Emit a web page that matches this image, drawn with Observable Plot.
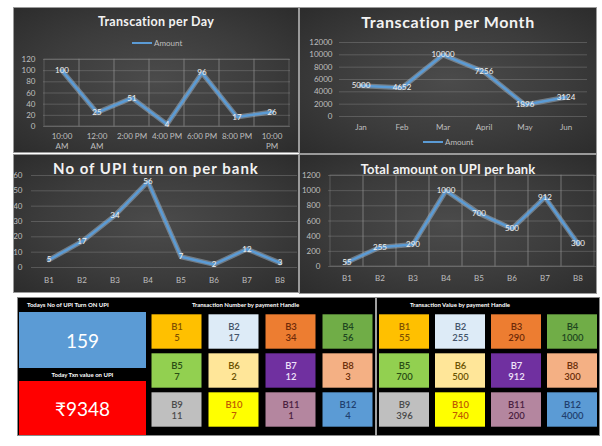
<!DOCTYPE html>
<html><head><meta charset="utf-8">
<script src="https://cdn.jsdelivr.net/npm/d3@7"></script>
<script src="https://cdn.jsdelivr.net/npm/@observablehq/plot@0.6"></script>
<style>
body{margin:0;background:#fff;font-family:Lato,"Noto Sans",sans-serif;}
#root{position:relative;width:602px;height:446px;overflow:hidden;background:#fff;}
.panel{position:absolute;background:radial-gradient(ellipse at 50% 50%,#4b4b4b 0%,#3c3c3c 55%,#2c2c2c 100%);overflow:hidden;box-shadow:0 0 0 1px #9a9a9a;}
.panel svg{position:absolute;left:0;top:0;}
.title{position:absolute;left:0;right:0;text-align:center;color:#f2f2f2;font-weight:700;white-space:nowrap;line-height:1;}
.legend{position:absolute;color:#bfbfbf;font-size:8px;line-height:8px;white-space:nowrap;}
.legend i{display:inline-block;width:20px;height:2px;background:#5b9bd5;vertical-align:middle;margin-right:2px;position:relative;top:-1px;}
#board{position:absolute;left:17px;top:297px;width:583px;height:139px;background:#000;box-sizing:border-box;border:1px solid #8a8a8a;}
.hdr{position:absolute;color:#fff;font-size:6px;font-weight:700;white-space:nowrap;line-height:6px;}
.kpi{position:absolute;color:#fff;display:flex;align-items:center;justify-content:center;font-size:19px;}
.sep{position:absolute;background:#a0a0a0;}
.tiles{position:absolute;}
</style></head>
<body><div id="root"></div>
<script>
// ---- data ----
const hours = ["10:00 AM","12:00 AM","2:00 PM","4:00 PM","6:00 PM","8:00 PM","10:00 PM"];
const dayAmount = [100,25,51,4,96,17,26];
const months = ["Jan","Feb","Mar","April","May","Jun"];
const monthAmount = [5000,4652,10000,7256,1896,3124];
const banks = ["B1","B2","B3","B4","B5","B6","B7","B8","B9","B10","B11","B12"];
const txnCount = [5,17,34,56,7,2,12,3,11,7,1,4];
const txnValue = [55,255,290,1000,700,500,912,300,396,740,200,4000];

// ---- styles ----
const tileFill = ["#ffc000","#ddebf7","#ed7d31","#70ad47","#92d050","#ffe699","#7030a0","#f4b084","#bfbfbf","#ffff00","#b4869f","#5b9bd5"];
const tileInk  = ["#7f5000","#44546a","#6e2a08","#1e4620","#2a4d14","#6b5200","#efe3fa","#6b2e0a","#4a4a4a","#c05a00","#4a2040","#1f3f6f"];

const root = document.getElementById("root");
function el(tag, cls, css, html){const e=document.createElement(tag); if(cls) e.className=cls; if(css) e.style.cssText=css; if(html!=null) e.innerHTML=html; return e;}

function lineChart({cats, vals, width, height, ml, mr, mt, mb, yMax, yStep, vgrid, xPad, yPad, fmtX}) {
  const data = cats.map((c,i)=>({c, v: vals[i]}));
  const ticks = d3.range(0, yMax + 1, yStep);
  return Plot.plot({
    width, height, marginLeft: ml, marginRight: mr, marginTop: mt, marginBottom: mb,
    style: {background:"transparent", color:"#bfbfbf", fontFamily:"Lato, sans-serif", fontSize:"8px", overflow:"visible"},
    x: {type:"band", domain: cats, padding: 0, label: null, axis: null},
    y: {domain:[0, yMax], label: null, axis: null},
    marks: [
      Plot.gridY(ticks, {stroke:"#9a9a9a", strokeOpacity:0.35}),
      vgrid ? Plot.cell(data, {x:"c", fill:"none", stroke:"#9a9a9a", strokeOpacity:0.35}) : null,
      Plot.axisY(ticks, {tickSize:0, tickPadding:yPad, tickFormat:"d", fill:"#bfbfbf", fontSize:8}),
      Plot.axisX({tickSize:0, tickPadding:xPad, tickFormat: fmtX || (d=>d), fill:"#bfbfbf", fontSize:8, lineHeight:1.25}),
      Plot.line(data, {x:"c", y:"v", stroke:"#bdd7ee", strokeWidth:5, strokeOpacity:0.4}),
      Plot.line(data, {x:"c", y:"v", stroke:"#5b9bd5", strokeWidth:2.5}),
      Plot.text(data, {x:"c", y:"v", text: d=>String(d.v), fill:"#f2f2f2", fontSize:8})
    ]
  });
}

function panel(left, top, w, h, chart, title, tTop, tSize, tSpace, legend){
  const p = el("div","panel",`left:${left}px;top:${top}px;width:${w}px;height:${h}px;`);
  p.appendChild(chart);
  p.appendChild(el("div","title",`top:${tTop}px;font-size:${tSize}px;letter-spacing:${tSpace}px;`, title));
  if (legend) p.appendChild(el("div","legend",`left:${legend[0]}px;top:${legend[1]}px;`, "<i></i>Amount"));
  root.appendChild(p);
}

panel(14, 8, 284, 144, lineChart({cats:hours, vals:dayAmount, width:284, height:144, ml:29, mr:8, mt:51, mb:26, yMax:120, yStep:20, vgrid:true, xPad:5, yPad:8,
  fmtX: d => d.length > 7 ? d.replace(" ", "\n") : d}), "Transcation per Day", 8, 12.5, 0.3, [118, 31]);

panel(300, 8, 296, 145, lineChart({cats:months, vals:monthAmount, width:296, height:145, ml:39, mr:9, mt:34, mb:37, yMax:12000, yStep:2000, vgrid:false, xPad:6, yPad:7}),
  "Transcation per Month", 6, 16, 0.6, [123, 130]);

panel(14, 155, 284, 137, lineChart({cats:banks.slice(0,8), vals:txnCount.slice(0,8), width:284, height:137, ml:17, mr:1, mt:20, mb:25, yMax:60, yStep:10, vgrid:false, xPad:8, yPad:9}),
  "No of UPI turn on per bank", 6, 15, 1, null);

panel(300, 155, 296, 138, lineChart({cats:banks.slice(0,8), vals:txnValue.slice(0,8), width:296, height:138, ml:28, mr:0, mt:20, mb:27, yMax:1200, yStep:200, vgrid:true, xPad:7, yPad:8}),
  "Total amount on UPI per bank", 8, 13, 0.1, null);

// ---- bottom board ----
const board = el("div", null, "", null); board.id = "board"; root.appendChild(board);
function abs(cls, css, html){ const e = el("div", cls, "position:absolute;" + css, html); root.appendChild(e); return e; }
abs("hdr", "left:27px;top:302px;", "Todays No of UPI Turn ON UPI");
abs("kpi", "left:19px;top:312px;width:127px;height:56px;background:#5b9bd5;", String(d3.sum(txnCount)));
abs("hdr", "left:19px;top:372px;width:127px;text-align:center;", "Today Txn value on UPI");
abs("kpi", "left:19px;top:381px;width:127px;height:54px;background:#ff0000;", "₹" + d3.sum(txnValue));
abs("hdr", "left:192px;top:302px;", "Transaction Number by payment Handle");
abs("hdr", "left:410px;top:302px;", "Transaction Value by payment Handle");
abs("sep", "left:375px;top:298px;width:2px;height:138px;");

function tilePlot(vals, width, inset){
  const tiles = banks.map((b,i)=>({bank:b, v:vals[i], i, col:i%4, row:Math.floor(i/4)}));
  return Plot.plot({
    width, height:119, margin:0,
    style:{background:"transparent", fontFamily:"Lato, sans-serif", overflow:"visible"},
    x:{type:"band", domain:[0,1,2,3], padding:0, axis:null},
    y:{type:"band", domain:[0,1,2], padding:0, axis:null},
    color:{type:"identity"},
    marks:[
      Plot.cell(tiles, {x:"col", y:"row", fill:d=>tileFill[d.i], insetLeft:inset, insetRight:inset, insetTop:2.3, insetBottom:2.3}),
      Plot.text(tiles, {x:"col", y:"row", text:d=>`${d.bank}\n${d.v}`, fill:d=>tileInk[d.i], fontSize:9.5, fontWeight:600, lineHeight:1.15})
    ]
  });
}
const t1 = el("div","tiles","left:148px;top:311px;"); t1.appendChild(tilePlot(txnCount, 228, 3.5)); root.appendChild(t1);
const t2 = el("div","tiles","left:376px;top:311px;"); t2.appendChild(tilePlot(txnValue, 224, 3)); root.appendChild(t2);
</script></body></html>
